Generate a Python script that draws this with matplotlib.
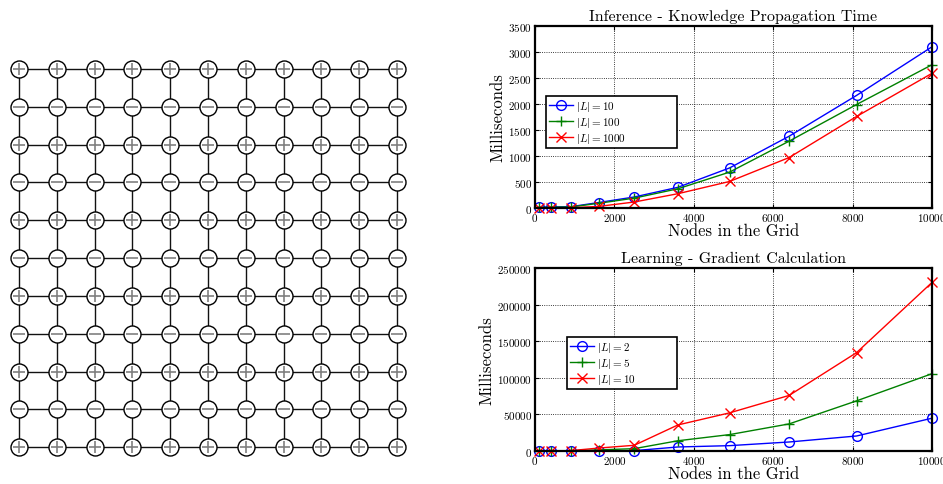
import matplotlib
matplotlib.use("Agg")
import matplotlib.pyplot as plt
import numpy as np

plt.rcParams['font.family'] = ['cmr10', 'DejaVu Serif']
plt.rcParams['mathtext.fontset'] = 'cm'
plt.rcParams['axes.formatter.use_mathtext'] = True

# ---- data ----
grid_rows = 11
grid_cols = 11
row_signs = ['+', '-', '+', '-', '+', '-', '+', '-', '+', '-', '+']

nodes = [100, 400, 900, 1600, 2500, 3600, 4900, 6400, 8100, 10000]

inf_labels = [r'$|L| = 10$', r'$|L| = 100$', r'$|L| = 1000$']
inf_L10 = [15, 20, 25, 105, 212, 398, 770, 1380, 2165, 3100]
inf_L100 = [10, 15, 20, 90, 190, 370, 690, 1285, 1990, 2755]
inf_L1000 = [2, 3, 5, 30, 115, 275, 510, 970, 1760, 2590]

learn_labels = [r'$|L| = 2$', r'$|L| = 5$', r'$|L| = 10$']
learn_L2 = [0, 0, 0, 300, 500, 5500, 7300, 12300, 20500, 44800]
learn_L5 = [0, 0, 300, 1500, 3200, 14000, 22400, 37000, 68500, 105600]
learn_L10 = [0, 200, 500, 4000, 7800, 35600, 52100, 75900, 134400, 230300]

colors = ['blue', 'green', 'red']
markers = ['o', '+', 'x']

fig = plt.figure(figsize=(9.43, 4.85), dpi=100)

# ---- left: grid graph ----
axg = fig.add_axes([0.0, 0.037, 416 / 943, 416 / 485])
axg.set_xlim(-0.5, grid_cols - 0.5)
axg.set_ylim(-0.5, grid_rows - 0.5)
axg.axis('off')
for r in range(grid_rows):
    y = grid_rows - 1 - r
    axg.plot([0, grid_cols - 1], [y, y], color='#111111', lw=1.0, zorder=1)
for c in range(grid_cols):
    axg.plot([c, c], [0, grid_rows - 1], color='#111111', lw=1.0, zorder=1)
for r in range(grid_rows):
    y = grid_rows - 1 - r
    xs = np.arange(grid_cols)
    ys = np.full(grid_cols, y)
    axg.scatter(xs, ys, s=150, facecolors='white', edgecolors='black',
                linewidths=1.0, zorder=2)
    m = '+' if row_signs[r] == '+' else '_'
    axg.scatter(xs, ys, s=70, marker=m, color='#808080', linewidths=1.2,
                zorder=3)


def style_axes(ax):
    ax.grid(True, color='black', linestyle=':', linewidth=0.6)
    ax.tick_params(direction='in', labelsize=8, length=3, width=0.8,
                   top=True, right=True, pad=2)
    for s in ax.spines.values():
        s.set_linewidth(1.6)
    ax.set_xlim(0, 10000)
    ax.set_xticks([0, 2000, 4000, 6000, 8000, 10000])
    ax.set_xlabel('Nodes in the Grid', fontsize=12, labelpad=0)
    ax.set_ylabel('Milliseconds', fontsize=12, labelpad=2)


def plot_series(ax, series, labels):
    for vals, col, mk, lab in zip(series, colors, markers, labels):
        ax.plot(nodes, vals, color=col, marker=mk, markersize=7,
                markerfacecolor='none', markeredgecolor=col,
                markeredgewidth=1.0, lw=1.0, label=lab, clip_on=False)


def add_legend(ax, x0, y1, w, h):
    leg = ax.legend(loc='upper left', bbox_to_anchor=(x0, y1 - h, w, h),
                    mode='expand', fontsize=8, frameon=True, fancybox=False,
                    framealpha=1, edgecolor='black', handlelength=2.2,
                    borderpad=0.25, labelspacing=0.2, handletextpad=0.2,
                    borderaxespad=0)
    leg.get_frame().set_linewidth(1.2)
    return leg


# ---- top right ----
ax1 = fig.add_axes([535 / 943, (485 - 209) / 485, 397 / 943, 182 / 485])
plot_series(ax1, [inf_L10, inf_L100, inf_L1000], inf_labels)
ax1.set_ylim(0, 3500)
ax1.set_yticks(np.arange(0, 3501, 500))
style_axes(ax1)
ax1.set_title('Inference - Knowledge Propagation Time', fontsize=11.5, pad=4)
add_legend(ax1, 0.028, 0.615, 0.330, 0.22)

# ---- bottom right ----
ax2 = fig.add_axes([535 / 943, (485 - 452) / 485, 397 / 943, 183 / 485])
plot_series(ax2, [learn_L2, learn_L5, learn_L10], learn_labels)
ax2.set_ylim(0, 250000)
ax2.set_yticks(np.arange(0, 250001, 50000))
style_axes(ax2)
ax2.set_title('Learning - Gradient Calculation', fontsize=11.5, pad=4)
add_legend(ax2, 0.081, 0.623, 0.277, 0.22)

fig.savefig('out.png', dpi=100)
